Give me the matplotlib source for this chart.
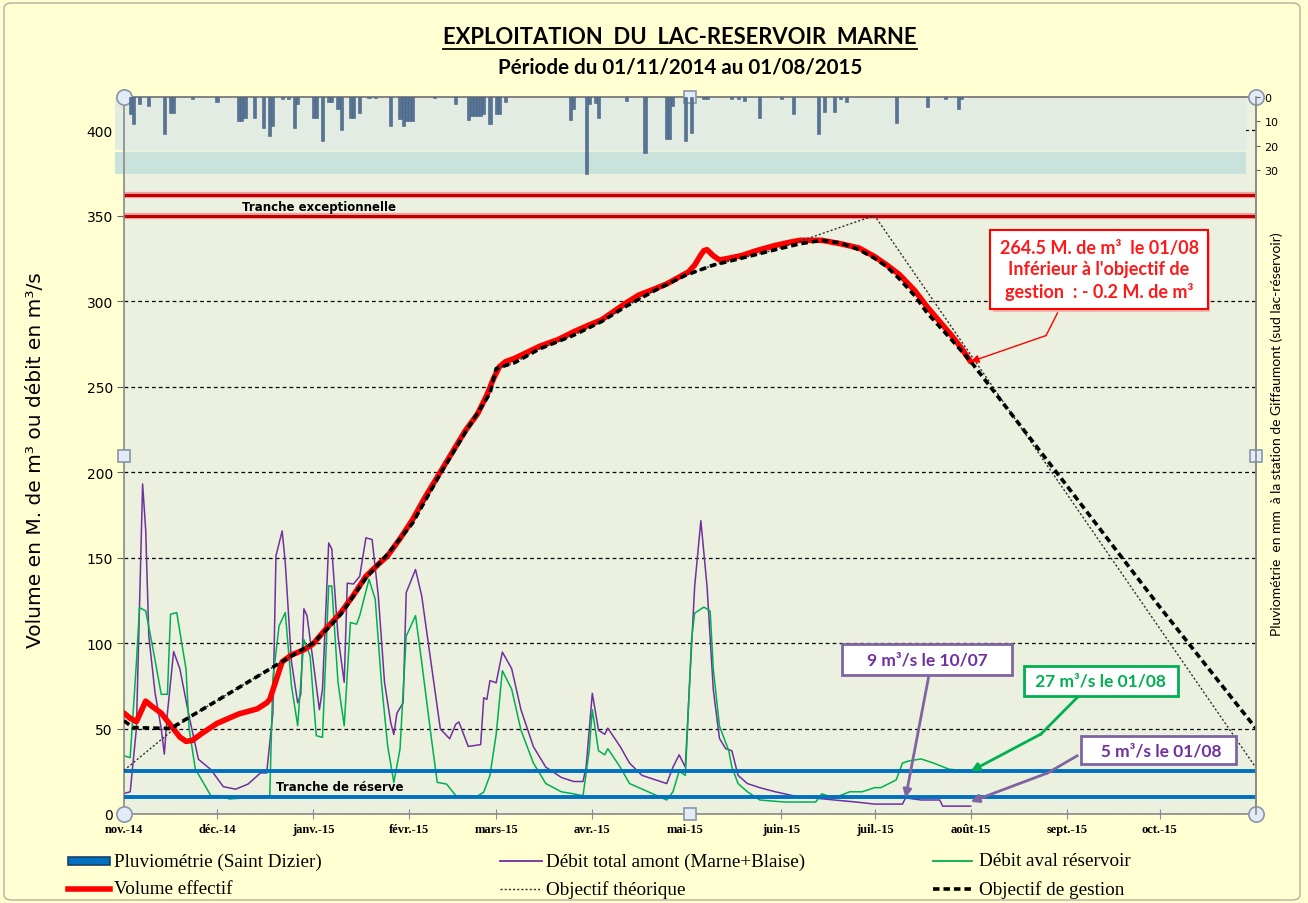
import numpy as np
import pandas as pd
import matplotlib
matplotlib.use('Agg')
import matplotlib.pyplot as plt
import matplotlib.patheffects as pe
from matplotlib.lines import Line2D
from matplotlib.patches import Rectangle, FancyBboxPatch

START = pd.Timestamp('2014-11-01')
END = pd.Timestamp('2015-11-01')

# all series: days counted from 01/11/2014
vol_days = [0, 2, 4, 6, 7, 9, 12, 15, 18, 20, 22, 25, 30, 37, 43, 46, 47, 49, 51, 54, 58, 61,
            65, 70, 74, 78, 82, 85, 89, 93, 97, 102, 106, 110, 114, 117, 119, 121, 123, 126,
            130, 134, 140, 145, 150, 154, 158, 162, 166, 171, 175, 178, 182, 184, 186, 187,
            188, 190, 192, 195, 199, 204, 210, 215, 218, 225, 231, 237, 242, 246, 250, 255,
            259, 263, 267, 270, 273]
vol_vals = [59, 56, 54, 62, 66, 63, 59, 52, 45, 42.5, 43, 47, 53, 58.5, 61.5, 65, 67, 78, 89,
            93, 96, 99.5, 108, 118, 128, 139, 146, 151, 161, 172, 185, 200, 212, 224, 234, 245,
            254, 261.5, 264.5, 266.5, 270, 273.5, 277.5, 282, 286, 289, 294, 299, 303.5, 307,
            310, 313, 317, 321, 327, 329.5, 330, 326.5, 324, 325, 326.5, 329.5, 332.5, 334.5,
            335.5, 335.5, 333.5, 331, 326, 321, 315.5, 306, 296.5, 288, 279.5, 272.5, 264.5]

gest_days = [0, 3, 15, 61, 66, 70, 78, 85, 93, 102, 110, 118, 120, 126, 134, 145, 154, 162,
             171, 181, 190, 199, 210, 218, 225, 231, 237, 242, 246, 250, 255, 259, 263, 267,
             273, 304, 334, 365]
gest_vals = [54.5, 50.5, 50, 100, 109, 117, 138, 152, 170, 199, 223, 246, 260.5, 264, 272,
             280, 288, 297, 306, 315, 321, 325, 330, 333.5, 335.5, 334, 330, 325, 320, 313,
             303, 293, 285, 277, 264.7, 192, 121, 50]

theo_days = [0, 20, 61, 66, 70, 78, 85, 93, 102, 110, 118, 120, 126, 134, 145, 154, 162, 171,
             181, 190, 199, 210, 242, 365]
theo_vals = [25.5, 55.5, 100, 109, 117, 138, 152, 170, 199, 223, 246, 260.5, 264, 272, 280,
             288, 297, 306, 315, 321, 325, 330, 350, 27]

amont_days = [0, 2, 4, 6, 7, 8, 10, 12, 13, 14, 16, 18, 21, 24, 28, 32, 36, 40, 44, 46, 48,
              49, 51, 52, 54, 56, 57, 58, 59, 61, 63, 64, 66, 67, 69, 71, 72, 74, 76, 78, 80,
              82, 84, 86, 87, 88, 90, 91, 94, 96, 99, 102, 105, 107, 108, 111, 115, 116, 117,
              118, 120, 122, 125, 128, 132, 136, 141, 145, 148, 149, 151, 153, 155, 156, 160,
              163, 167, 171, 175, 177, 179, 181, 182, 184, 186, 188, 190, 192, 194, 196, 198,
              201, 205, 210, 216, 222, 229, 236, 242, 251, 252, 257, 263, 264, 273]
amont_vals = [12, 13, 50, 193, 166, 104, 71, 50, 35, 59, 95, 85, 57, 32, 26, 16, 14.5, 17.5,
              24, 24, 59, 151, 165.5, 147, 89, 65, 70, 120, 116, 89, 61, 73, 158.5, 155, 104,
              77, 135, 134.5, 139, 161.5, 160.5, 127.5, 77, 53.5, 46.5, 59, 65, 129.5, 143,
              127.5, 88.5, 49.7, 44, 52.6, 53.8, 39.5, 40.6, 68, 67, 78, 76.7, 94.7, 85, 61,
              39.4, 27.4, 21.4, 19, 19, 27.4, 70.6, 49, 46.6, 50.2, 39.4, 29.8, 22.6, 20.2,
              17.8, 27.4, 34.6, 27.4, 63.4, 133, 171.5, 133, 73, 44.2, 38.2, 37, 22.6, 17.8,
              15.4, 13, 10.6, 9.4, 8.2, 7, 5.8, 5.8, 9.4, 8.2, 8.2, 4.6, 4.6]

aval_days = [0, 2, 4, 5, 7, 9, 12, 14, 15, 17, 20, 21, 23, 28, 31, 34, 40, 47, 48, 50, 52,
             54, 56, 58, 60, 62, 64, 66, 67, 69, 71, 73, 75, 76, 79, 81, 83, 85, 87, 89, 91,
             94, 96, 99, 101, 104, 107, 111, 114, 116, 118, 120, 122, 125, 128, 132, 136, 141,
             145, 148, 150, 151, 153, 155, 156, 160, 163, 169, 175, 177, 179, 181, 183, 184,
             187, 189, 190, 192, 195, 196, 198, 201, 205, 213, 223, 225, 229, 234, 238, 242,
             244, 248, 249, 251, 253, 257, 261, 266, 270, 273]
aval_vals = [34, 33, 88.6, 120.7, 118.8, 100, 70, 70, 116.8, 117.8, 84.7, 49.7, 26.3, 10.7,
             10.7, 8.8, 9.5, 10.7, 79, 110, 117.8, 75, 51.6, 102, 92.5, 45.8, 44.8, 133.4,
             133.4, 77, 51.6, 112, 111, 116, 137.3, 125.6, 77, 40, 18.5, 38, 104, 116, 88.6,
             45.8, 18.5, 17.5, 10.7, 10.7, 10.5, 12.8, 22.6, 46.6, 83.8, 73, 49, 29.8, 17.8,
             13, 11.8, 10.6, 37, 61, 37, 34.6, 38.2, 27.4, 17.8, 13, 8.2, 13, 25, 22.6, 102,
             117.5, 121, 118.7, 85, 51.4, 37, 27.4, 17.8, 13, 8.2, 7, 7, 11.8, 9.4, 13, 13,
             15.4, 15.4, 19, 20, 29.8, 31, 32.2, 29.8, 26.2, 25.5, 25]

pluie_days = [2, 3, 5, 8, 13, 15, 16, 22, 30, 37, 38, 39, 42, 45, 47, 48, 51, 53, 55, 56, 61,
              62, 64, 66, 67, 69, 70, 73, 74, 76, 79, 81, 86, 89, 90, 91, 92, 93, 100, 107,
              111, 112, 113, 114, 115, 116, 118, 120, 121, 123, 144, 145, 149, 150, 152, 153,
              162, 168, 175, 176, 177, 181, 183, 187, 188, 196, 198, 200, 205, 212, 216, 224,
              226, 229, 231, 233, 249, 259, 265, 269, 270]
pluie_mm = [7, 11, 3, 3.5, 15.3, 6.7, 6.7, 1, 2, 9.9, 9.9, 8.4, 8.4, 12.5, 16, 12, 1, 1, 12.5,
            3, 8.4, 8.4, 17.8, 2, 2, 5, 13.3, 8.4, 8.4, 6.7, 0.5, 0.5, 11.9, 9, 12, 10, 10, 10,
            0.5, 3, 9.2, 7.8, 7.8, 7.8, 7.8, 7, 11.2, 7, 7, 2, 9.2, 5, 31.4, 3, 2.5, 8.4, 1.5,
            22.8, 17.3, 17.3, 3.5, 18, 14.6, 1, 1, 1, 1, 1.5, 8.5, 0.8, 7.1, 15.3, 6, 6, 1, 2,
            10.5, 4, 1, 5, 1]

month_labels = ['nov.-14', 'déc.-14', 'janv.-15', 'févr.-15', 'mars-15', 'avr.-15', 'mai-15',
                'juin-15', 'juil.-15', 'août-15', 'sept.-15', 'oct.-15']
tranche_exc = [350, 362]
tranche_res = [10, 25]

W, H = 1308, 904
BG = '#ffffd2'
PLOT_BG = '#ebf1de'
PURPLE = '#7030a0'
GREEN = '#00b050'
BLUE = '#0070c0'
DARKRED = '#c00000'


def to_dates(days):
  return START + pd.to_timedelta(np.asarray(days, dtype=float), unit='D')


def day(d):
  return START + pd.Timedelta(days=d)


def fx(px):
  return px / W


def fy(py):
  return 1.0 - py / H


fig = plt.figure(figsize=(W / 100, H / 100), dpi=100, facecolor=BG)
fig.add_artist(FancyBboxPatch((fx(4), fy(901)), fx(1300) - fx(4), fy(4) - fy(901),
                              boxstyle='round,pad=0,rounding_size=0.006', transform=fig.transFigure,
                              fc='none', ec='#b0b0a0', lw=1))

ax = fig.add_axes([fx(124), fy(815), fx(1256) - fx(124), fy(98) - fy(815)])
ax.set_facecolor(PLOT_BG)
ax.set_xlim(START, END)
ax.set_ylim(0, 419.3)

# shaded bands behind the rainfall bars
ax.add_patch(Rectangle((fx(115), fy(151)), fx(1246) - fx(115), fy(98) - fy(151), transform=fig.transFigure,
                       fc='#e2ece2', ec='none', clip_on=False, zorder=0.8))
ax.add_patch(Rectangle((fx(115), fy(175)), fx(1246) - fx(115), fy(153) - fy(175), transform=fig.transFigure,
                       fc='#c9e3dc', ec='none', clip_on=False, zorder=0.8))

ax.set_yticks(range(0, 401, 50))
ax.grid(axis='y', color='black', lw=0.9, linestyle=(0, (3, 2.5)), zorder=1)
ax.set_axisbelow(True)

for v in tranche_exc:
  ax.axhline(v, color='#f2a0a0', lw=4.5, zorder=2.4)
  ax.axhline(v, color=DARKRED, lw=2.2, zorder=2.5)
for v in tranche_res:
  ax.axhline(v, color=BLUE, lw=2.8, zorder=2.6)

ax.plot(to_dates(amont_days), amont_vals, color=PURPLE, lw=1.1, zorder=2.2)
ax.plot(to_dates(aval_days), aval_vals, color=GREEN, lw=1.1, zorder=2.3)
ax.plot(to_dates(vol_days), vol_vals, color='#ff0000', lw=4, solid_capstyle='round', zorder=3)
ax.plot(to_dates(theo_days), theo_vals, color='#303030', lw=1.0, linestyle=(0, (1.5, 1.5)), zorder=3.2)
ax.plot(to_dates(gest_days), gest_vals, color='black', lw=2.6, linestyle=(0, (1.8, 1.1)), zorder=3.4)

ax.text(day(63), 355.5, 'Tranche exceptionnelle', ha='center', va='center', fontsize=8.5,
        fontweight='bold', family='DejaVu Sans', zorder=4)
ax.text(day(69.5), 16.2, 'Tranche de réserve', ha='center', va='center', fontsize=8.5,
        fontweight='bold', family='DejaVu Sans', zorder=4)

months = pd.date_range(START, periods=12, freq='MS')
ax.set_xticks(months)
ax.set_xticklabels(month_labels, family='Liberation Serif', fontweight='bold', fontsize=9)
ax.tick_params(axis='x', direction='inout', length=7, color='#7f8fa0', pad=3)
ax.tick_params(axis='y', direction='out', length=5, color='#606060', labelsize=10, pad=3)
for s in ['left', 'bottom', 'right', 'top']:
  ax.spines[s].set_color('#8a8a8a')
  ax.spines[s].set_linewidth(1.2)
ax.spines['top'].set_color('#707070')

# rainfall on the reversed secondary axis
ax2 = ax.twinx()
ax2.bar(to_dates(pluie_days), pluie_mm, width=1.0, color='#587494', edgecolor='#46617f',
        lw=0.4, zorder=3)
ax2.set_ylim(293, 0)
ax2.set_yticks([0, 10, 20, 30])
ax2.tick_params(axis='y', direction='out', length=3, color='#606060', labelsize=8, pad=3)
for s in ['left', 'bottom', 'top']:
  ax2.spines[s].set_visible(False)
ax2.spines['right'].set_color('#8a8a8a')
ax2.spines['right'].set_linewidth(1.2)

# Excel selection handles
ax.plot([0, 1, 0, 1], [0, 0, 1, 1], 'o', transform=ax.transAxes, ms=11, mfc='#e3ecf6',
        mec='#8896a6', mew=1.2, clip_on=False, zorder=10)
ax.plot([0.5, 0.5, 0, 1], [0, 1, 0.5, 0.5], 's', transform=ax.transAxes, ms=8.5, mfc='#e3ecf6',
        mec='#8896a6', mew=1.2, clip_on=False, zorder=10)

# annotations
txt = "264.5 M. de m³  le 01/08\nInférieur à l'objectif de\ngestion  : - 0.2 M. de m³"
red_box = ax.text(day(314.4), 318.5, txt, ha='center', va='center', color='#ff1a1a', fontweight='bold',
                  fontsize=13, family='Lato', linespacing=1.3, zorder=6,
                  bbox=dict(boxstyle='square,pad=0.5', fc='white', ec='#ff0000', lw=1.5))
red_box.get_bbox_patch().set_path_effects([
  pe.SimplePatchShadow(offset=(2, -2), shadow_rgbFace='#ff8080', alpha=0.5), pe.Normal()])
ax.plot([day(301), day(297.3)], [293, 279.8], color='#ff0000', lw=1, zorder=6)
ax.annotate('', xy=(day(vol_days[-1]), vol_vals[-1]), xytext=(day(297.3), 279.8),
            arrowprops=dict(arrowstyle='-|>', color='#ff0000', lw=1, mutation_scale=12,
                            shrinkA=0, shrinkB=0), zorder=6)

ax.text(day(258.9), 90.4, '    9 m³/s le 10/07    ', ha='center', va='center', color=PURPLE,
        fontweight='bold', fontsize=12.5, family='Lato', zorder=6,
        bbox=dict(boxstyle='square,pad=0.42', fc='white', ec='#8064a2', lw=2))
i = amont_days.index(252)
ax.annotate('', xy=(day(amont_days[i]), amont_vals[i]), xytext=(day(259.5), 80.7),
            arrowprops=dict(arrowstyle='-|>', color='#8064a2', lw=2, mutation_scale=12,
                            shrinkA=0, shrinkB=0), zorder=6)

ax.text(day(315), 77.8, ' 27 m³/s le 01/08 ', ha='center', va='center', color=GREEN,
        fontweight='bold', fontsize=12.5, family='Lato', zorder=6,
        bbox=dict(boxstyle='square,pad=0.42', fc='white', ec=GREEN, lw=2))
ax.plot([day(307.5), day(295.7)], [68.4, 46.8], color=GREEN, lw=2, zorder=6)
ax.annotate('', xy=(day(aval_days[-1]), aval_vals[-1]), xytext=(day(295.7), 46.8),
            arrowprops=dict(arrowstyle='-|>', color=GREEN, lw=2, mutation_scale=12,
                            shrinkA=0, shrinkB=0), zorder=6)

ax.text(day(333.6), 37.4, '   5 m³/s le 01/08  ', ha='center', va='center', color=PURPLE,
        fontweight='bold', fontsize=12.5, family='Lato', zorder=6,
        bbox=dict(boxstyle='square,pad=0.36', fc='white', ec='#8064a2', lw=2))
ax.plot([day(307.3), day(297.8)], [34, 24], color='#8064a2', lw=2, zorder=6)
ax.annotate('', xy=(day(amont_days[-1]), amont_vals[-1] + 2.5), xytext=(day(297.8), 24),
            arrowprops=dict(arrowstyle='-|>', color='#8064a2', lw=2, mutation_scale=12,
                            shrinkA=0, shrinkB=0), zorder=6)

# titles and axis labels
title = fig.text(fx(680), fy(38), 'EXPLOITATION  DU  LAC-RESERVOIR  MARNE', ha='center', va='center',
                 fontsize=15.8, fontweight='bold', family='Lato')
fig.text(fx(680), fy(68), 'Période du 01/11/2014 au 01/08/2015', ha='center', va='center',
         fontsize=14.8, fontweight='bold', family='Lato')
fig.text(fx(36), fy(460), 'Volume en M. de m³ ou débit en m³/s', rotation=90, ha='center', va='center',
         fontsize=14.5, family='DejaVu Sans')
fig.text(fx(1277), fy(434), 'Pluviométrie  en mm  à la station de Giffaumont (sud lac-réservoir)',
         rotation=90, ha='center', va='center', fontsize=10, family='Lato')

# legend drawn by hand in pixel positions
leg_font = dict(family='Liberation Serif', fontsize=13.8, va='center', ha='left')
row1, row2 = 862, 890
fig.add_artist(Rectangle((fx(68), fy(row1 + 4)), fx(110) - fx(68), fy(row1 - 4) - fy(row1 + 4),
                         transform=fig.transFigure, fc=BLUE, ec='#1f3f66', lw=1.2))
fig.text(fx(114), fy(row1), 'Pluviométrie (Saint Dizier)', **leg_font)
fig.add_artist(Line2D([fx(500), fx(542)], [fy(row1), fy(row1)], color=PURPLE, lw=1.3))
fig.text(fx(546), fy(row1), 'Débit total amont (Marne+Blaise)', **leg_font)
fig.add_artist(Line2D([fx(933), fx(972)], [fy(row1), fy(row1)], color=GREEN, lw=1.3))
fig.text(fx(979), fy(row1), 'Débit aval réservoir', **leg_font)
fig.add_artist(Line2D([fx(68), fx(110)], [fy(row2), fy(row2)], color='#ff0000', lw=4))
fig.text(fx(114), fy(row2), 'Volume effectif', **leg_font)
fig.add_artist(Line2D([fx(500), fx(542)], [fy(row2), fy(row2)], color='#303030', lw=1.0,
                      linestyle=(0, (1.5, 1.5))))
fig.text(fx(546), fy(row2), 'Objectif théorique', **leg_font)
fig.add_artist(Line2D([fx(933), fx(972)], [fy(row2), fy(row2)], color='black', lw=2.6,
                      linestyle=(0, (1.8, 1.1))))
fig.text(fx(979), fy(row2), 'Objectif de gestion', **leg_font)

# underline the main title
fig.canvas.draw()
bb = title.get_window_extent()
fig.add_artist(Line2D([bb.x0 / W, bb.x1 / W], [(bb.y0 - 1.5) / H, (bb.y0 - 1.5) / H],
                      color='black', lw=1.3))

fig.savefig('out.png', dpi=100, facecolor=BG)
